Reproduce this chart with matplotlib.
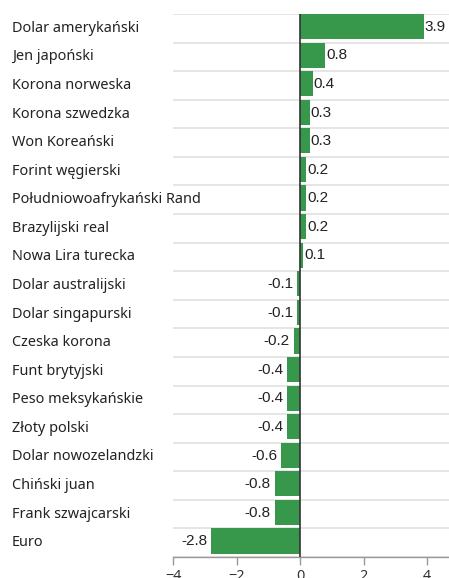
import matplotlib
matplotlib.use("Agg")
import matplotlib.pyplot as plt

categories = [
    "Dolar amerykański", "Jen japoński", "Korona norweska", "Korona szwedzka",
    "Won Koreański", "Forint węgierski", "Południowoafrykański Rand",
    "Brazylijski real", "Nowa Lira turecka", "Dolar australijski",
    "Dolar singapurski", "Czeska korona", "Funt brytyjski", "Peso meksykańskie",
    "Złoty polski", "Dolar nowozelandzki", "Chiński juan", "Frank szwajcarski", "Euro",
]
values = [3.9, 0.8, 0.4, 0.3, 0.3, 0.2, 0.2, 0.2, 0.1, -0.1, -0.1, -0.2,
          -0.4, -0.4, -0.4, -0.6, -0.8, -0.8, -2.8]
ticks = [-4, -2, 0, 2, 4]

W, H = 449, 578
fig = plt.figure(figsize=(W / 100, H / 100), dpi=100)
left, right, top, bottom = 173, 449, 14, 557
ax = fig.add_axes([left / W, 1 - bottom / H, (right - left) / W, (bottom - top) / H])

green = "#37974a"
n = len(categories)
ys = list(range(n))
ax.barh(ys, values, height=0.88, align="edge", color=green, zorder=2)

for y in range(n + 1):
    ax.axhline(y, color="#e0e0e0", linewidth=1.2, zorder=1)
ax.axvline(0, color="#333333", linewidth=1.2, zorder=3)

for y, v, c in zip(ys, values, categories):
    if v >= 0:
        ax.text(v + 0.03, y + 0.45, f"{v:.1f}", ha="left", va="center",
                fontsize=11, family="Liberation Sans", color="#222222")
    else:
        ax.text(v - 0.12, y + 0.45, f"{v:.1f}", ha="right", va="center",
                fontsize=11, family="Liberation Sans", color="#222222")
    ax.text(12 / W, 1 - (top + (y + 0.5) * (bottom - top) / n) / H, c,
            transform=fig.transFigure, ha="left", va="center",
            fontsize=10.4, family="Noto Sans", color="#222222")

ax.set_xlim(-4, -4 + (right - left) / 31.75)
ax.set_ylim(n, 0)
ax.set_xticks(ticks)
ax.set_xticklabels([f"\u2212{abs(t)}" if t < 0 else str(t) for t in ticks],
                   family="Noto Sans", fontsize=10.4, color="#333333")
ax.set_yticks([])
ax.tick_params(axis="x", length=6, color="#999999", width=1, pad=2.5)
for s in ["top", "right", "left"]:
    ax.spines[s].set_visible(False)
ax.spines["bottom"].set_color("#999999")
ax.spines["bottom"].set_linewidth(1)

fig.savefig("out.png", dpi=100)
